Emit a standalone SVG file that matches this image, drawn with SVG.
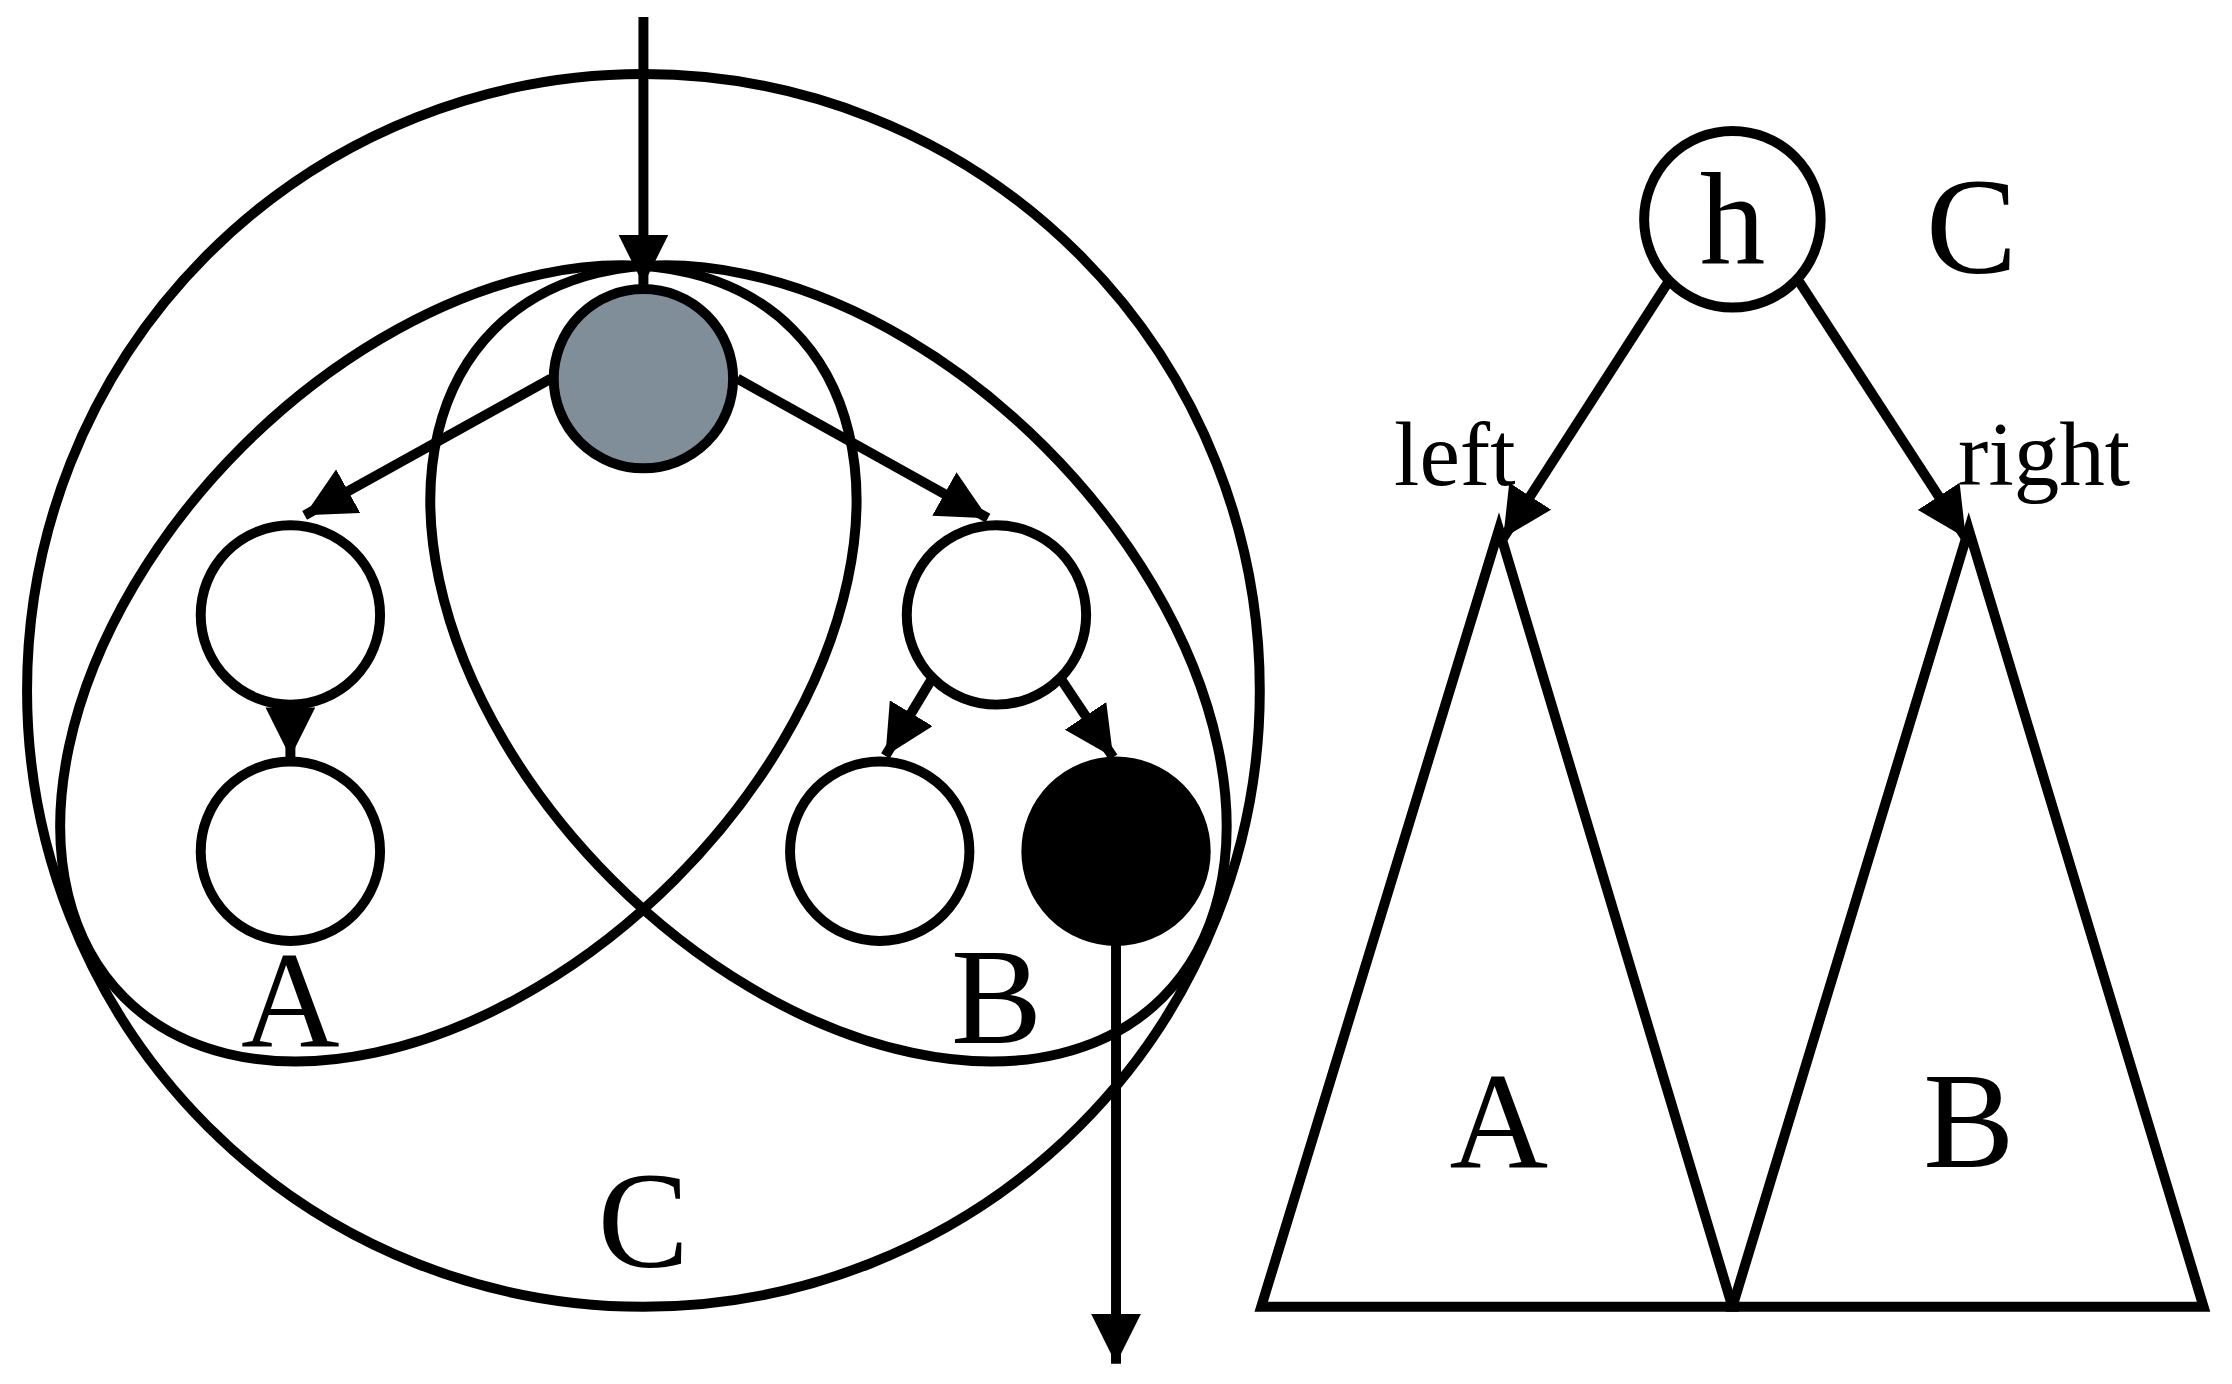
<svg xmlns="http://www.w3.org/2000/svg" width="2232" height="1384" viewBox="0 0 2232 1384">
<style>
.s{fill:none;stroke:#000;stroke-width:7}
.n{fill:#fff;stroke:#000;stroke-width:7}
.t{font-family:"Liberation Serif",serif;text-anchor:middle;fill:#000}
</style>
<defs><marker id="ah" viewBox="0 0 10 10" refX="10" refY="5" markerWidth="5" markerHeight="5" orient="auto" markerUnits="strokeWidth"><path d="M0,0L10,5L0,10z" fill="#000"/></marker></defs>
<rect width="2232" height="1384" fill="#fff"/>
<g transform="scale(1.4235)">
<g id="groups">
<circle class="s" cx="452" cy="485" r="433"/>
<ellipse class="s" cx="322" cy="466" rx="332" ry="215" transform="rotate(-45 322 466)"/>
<ellipse class="s" cx="582" cy="466" rx="332" ry="215" transform="rotate(45 582 466)"/>
</g>
<g id="n-root"><circle class="n" cx="452" cy="266" r="63" fill="#808e9a" style="fill:#808e9a"/></g>
<g id="n-l"><circle class="n" cx="204" cy="432" r="63"/></g>
<g id="n-ll"><circle class="n" cx="204" cy="598" r="63"/></g>
<g id="n-r"><circle class="n" cx="700" cy="432" r="63"/></g>
<g id="n-rl"><circle class="n" cx="618" cy="598" r="63"/></g>
<g id="n-rr"><circle class="n" cx="784" cy="598" r="63" style="fill:#000"/></g>
<g id="connectors">
<line class="s" x1="452" y1="12" x2="452" y2="200" marker-end="url(#ah)"/>
<line class="s" x1="387" y1="266" x2="214" y2="362" marker-end="url(#ah)"/>
<line class="s" x1="518" y1="266" x2="694" y2="364" marker-end="url(#ah)"/>
<line class="s" x1="204" y1="495" x2="204" y2="532" marker-end="url(#ah)"/>
<line class="s" x1="654" y1="478" x2="622" y2="531" marker-end="url(#ah)"/>
<line class="s" x1="746" y1="478" x2="782" y2="532" marker-end="url(#ah)"/>
<line class="s" x1="784" y1="662" x2="784" y2="958" marker-end="url(#ah)"/>
<line class="s" x1="1172" y1="198" x2="1056" y2="378" marker-end="url(#ah)"/>
<line class="s" x1="1264" y1="198" x2="1381" y2="378" marker-end="url(#ah)"/>
</g>
<g id="tri-A"><path class="s" d="M1053,372L886,918H1217Z"/></g>
<g id="tri-B"><path class="s" d="M1383,372L1217,918H1548Z"/></g>
<g id="n-h"><circle class="n" cx="1217" cy="154" r="62"/><text class="t" x="1217" y="185" font-size="92">h</text></g>
<g id="labels">
<text class="t" x="204" y="735" font-size="96">A</text>
<text class="t" x="700" y="733" font-size="96">B</text>
<text class="t" x="452" y="890" font-size="96">C</text>
<text class="t" x="1385" y="192" font-size="96">C</text>
<text class="t" x="1022" y="341" font-size="64">left</text>
<text class="t" x="1436" y="341" font-size="64">right</text>
<text class="t" x="1053" y="820" font-size="96">A</text>
<text class="t" x="1383" y="820" font-size="96">B</text>
</g>
</g>
</svg>
